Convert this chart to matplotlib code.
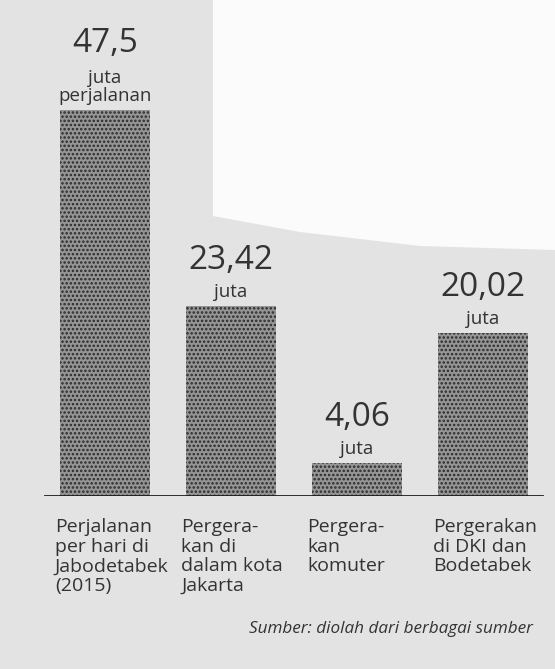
import matplotlib
matplotlib.use("Agg")
import matplotlib.pyplot as plt
from matplotlib.patches import Polygon

categories = [
    "Perjalanan\nper hari di\nJabodetabek\n(2015)",
    "Pergera-\nkan di\ndalam kota\nJakarta",
    "Pergera-\nkan\nkomuter",
    "Pergerakan\ndi DKI dan\nBodetabek",
]
values = [47.5, 23.42, 4.06, 20.02]
value_labels = ["47,5", "23,42", "4,06", "20,02"]
unit_labels = ["juta\nperjalanan", "juta", "juta", "juta"]
source = "Sumber: diolah dari berbagai sumber"

W, H = 555, 669
fig = plt.figure(figsize=(W / 100, H / 100), dpi=100)
fig.patch.set_facecolor("#e3e3e3")

# white paper region at top right (scan background)
def fp(x, y):
    return (x / W, 1 - y / H)
poly = Polygon([fp(213, 0), fp(555, 0), fp(555, 250), fp(420, 246),
                fp(300, 232), fp(213, 216)], closed=True,
               transform=fig.transFigure, facecolor="#fbfbfb",
               edgecolor="none", zorder=0)
fig.patches.append(poly)

plt.rcParams["font.family"] = ["Open Sans", "DejaVu Sans"]
plt.rcParams["hatch.linewidth"] = 1.2

base_y = 496
ax = fig.add_axes([0, 1 - base_y / H, 1, base_y / H])
ax.set_xlim(-0.833, 3.571)
ax.set_ylim(0, 61.0)
ax.axis("off")
ax.patch.set_alpha(0)

x = list(range(len(values)))
width = 0.714
ax.bar(x, values, width=width, color="#959595", edgecolor="#2a2a2a",
       linewidth=0, hatch="....", zorder=2)
ax.axhline(0, xmin=0.081, xmax=0.978, color="#1e1e1e", lw=1.3, zorder=3)

txt = "#333333"
for i, (v, vl, ul) in enumerate(zip(values, value_labels, unit_labels)):
    nlines = ul.count("\n") + 1
    ax.annotate(ul, (i, v), xytext=(0, 5), textcoords="offset pixels",
                ha="center", va="bottom", fontsize=13.5, color=txt,
                linespacing=0.95)
    ax.annotate(vl, (i, v), xytext=(0, 16 + 21 * nlines),
                textcoords="offset pixels", ha="center", va="baseline",
                fontsize=24, color=txt)
    ax.annotate(categories[i], (i - width / 2, 0), xytext=(-5, -22),
                textcoords="offset pixels", ha="left", va="top",
                fontsize=14, color=txt, linespacing=1.12)

fig.text(533 / W, 1 - 633 / H, source, ha="right", va="baseline",
         fontsize=12.3, style="italic", color=txt)

fig.savefig("out.png", dpi=100, facecolor=fig.get_facecolor())
